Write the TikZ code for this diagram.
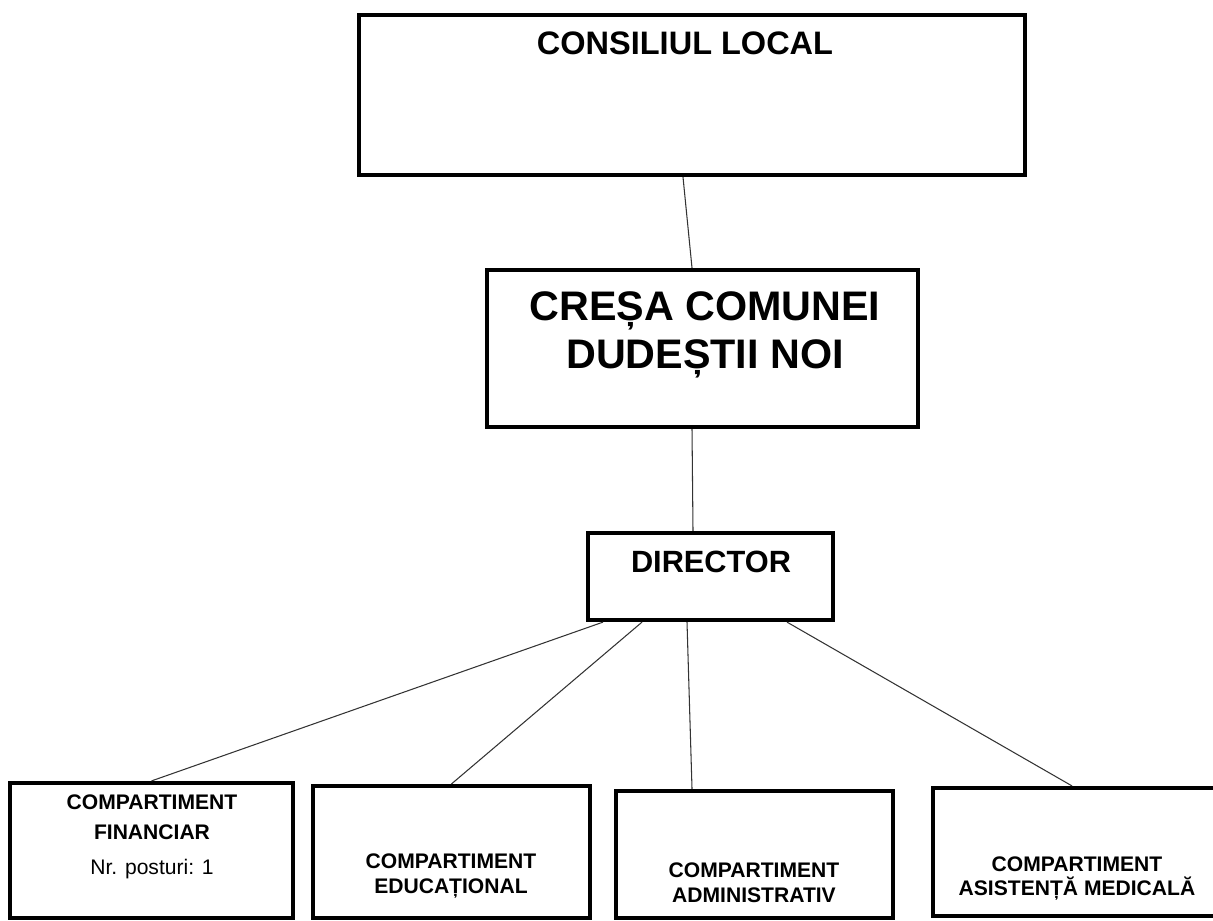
\documentclass[tikz,border=0pt]{standalone}
\usepackage{fontspec}
\setmainfont{Liberation Sans}
\usetikzlibrary{positioning}

\begin{document}
\begin{tikzpicture}[
    x=0.02cm,
    y=-0.02cm,
    unit/.style={rectangle, draw, line width=2.4pt, inner sep=0pt},
    link/.style={draw=black!80, line width=0.6pt},
    every node/.style={font=\bfseries\fontsize{12}{14}\selectfont}
]
\useasboundingbox (0,0) rectangle (1213,920);

%---------------- Top level ----------------
\node[unit, minimum width=13.32cm, minimum height=3.2cm] (cl) at (692,95) {};
\node[font=\bfseries\fontsize{18.5}{22}\selectfont] (clt) at (685,43) {CONSILIUL LOCAL};

\node[unit, minimum width=8.62cm, minimum height=3.14cm] (cresa) at (702.5,348.5) {};
\node[align=center, font=\bfseries\fontsize{23.5}{27.5}\selectfont] (cresat) at (705,335)
    {CREȘA COMUNEI\\DUDEȘTII NOI};

\node[unit, minimum width=4.9cm, minimum height=1.74cm] (dir) at (710.5,576.5) {};
\node[font=\bfseries\fontsize{17.5}{21}\selectfont] (dirt) at (711,562) {DIRECTOR};

%---------------- Compartments ----------------
\node[unit, minimum width=5.66cm, minimum height=2.7cm] (fin) at (151.5,850.5) {};
\node (fint1) at (152,802) {COMPARTIMENT};
\node (fint2) at (152,832) {FINANCIAR};
\node[font=\fontsize{12}{14}\selectfont] (fint3) at (152,869) {Nr. posturi: 1};

\node[unit, minimum width=5.54cm, minimum height=2.64cm] (edu) at (451.5,852) {};
\node[align=center] (edut) at (451,876) {COMPARTIMENT\\EDUCAȚIONAL};

\node[unit, minimum width=5.54cm, minimum height=2.54cm] (adm) at (754.5,854.5) {};
\node[align=center] (admt) at (754,883) {COMPARTIMENT\\ADMINISTRATIV};

\node[unit, minimum width=5.76cm, minimum height=2.56cm] (med) at (1077,852) {};
\node[align=center] (medt) at (1077,878.5) {COMPARTIMENT\\ASISTENȚĂ MEDICALĂ};

%---------------- Connections ----------------
\draw[link] ([xshift=-0.18cm]cl.south) -- ([xshift=-0.21cm]cresa.north);
\draw[link] ([xshift=-0.21cm]cresa.south) -- ([xshift=-0.35cm]dir.north);

\draw[link] ([xshift=-2.15cm]dir.south) -- (fin.north);
\draw[link] ([xshift=-1.37cm]dir.south) -- (edu.north);
\draw[link] ([xshift=-0.47cm]dir.south) -- ([xshift=-1.25cm]adm.north);
\draw[link] ([xshift=1.53cm]dir.south) -- ([xshift=-0.1cm]med.north);
\end{tikzpicture}
\end{document}
